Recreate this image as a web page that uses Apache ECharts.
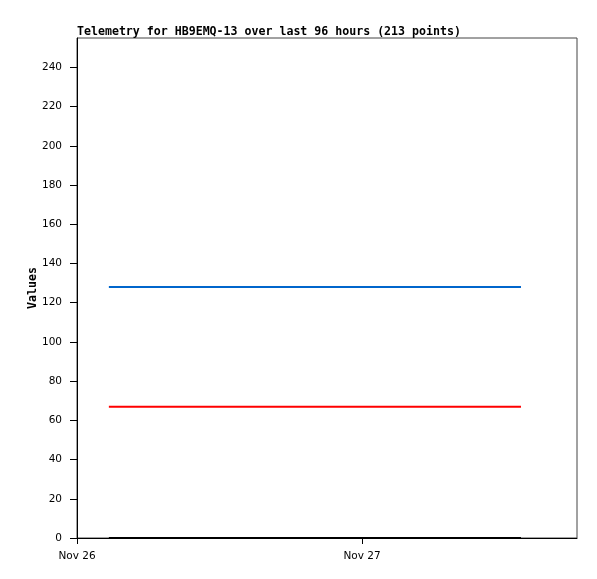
<!DOCTYPE html>
<html><head><meta charset="utf-8">
<script src="https://cdn.jsdelivr.net/npm/echarts@6/dist/echarts.min.js"></script>
<style>html,body{margin:0;padding:0;background:#fff}#c{width:597px;height:579px}</style>
</head><body><div id="c"></div>
<script>
const titleText = "Telemetry for HB9EMQ-13 over last 96 hours (213 points)";
const yAxisName = "Values";
const times = ["2023-11-26T02:41:00Z", "2023-11-26T12:00:00Z", "2023-11-26T22:00:00Z", "2023-11-27T06:00:00Z", "2023-11-27T13:23:00Z"];
const blueValues = [128, 128, 128, 128, 128];
const redValues = [67, 67, 67, 67, 67];
const blackValues = [0, 0, 0, 0, 0];
const yTicks = [0, 20, 40, 60, 80, 100, 120, 140, 160, 180, 200, 220, 240];
const xTickLabels = ["2023-11-26T00:00:00Z", "2023-11-27T00:00:00Z"];

const DAY = 86400000;
const xMin = Date.parse("2023-11-26T00:00:00Z");
const xMax = Date.parse("2023-11-27T18:06:00Z");
const xTicks = xTickLabels.map(s => Date.parse(s));
const months = ["Jan","Feb","Mar","Apr","May","Jun","Jul","Aug","Sep","Oct","Nov","Dec"];
const toPairs = vals => times.map((t, i) => [Date.parse(t), vals[i]]);

const chart = echarts.init(document.getElementById('c'), null, {renderer: 'canvas'});
chart.setOption({
  animation: false,
  title: {
    text: titleText, left: 77, top: 26, padding: 0,
    textStyle: {fontFamily: 'DejaVu Sans Mono', fontWeight: 'bold', fontSize: 11.6, color: '#000'}
  },
  grid: {left: 77, right: 20, top: 38, bottom: 41, show: true, borderColor: '#444', borderWidth: 1, backgroundColor: '#fff'},
  xAxis: {
    type: 'value', min: xMin, max: xMax, interval: DAY,
    axisLine: {show: true, onZero: false, lineStyle: {color: '#000', width: 1}},
    axisTick: {show: true, length: 6, customValues: xTicks, lineStyle: {color: '#000'}},
    axisLabel: {
      customValues: xTicks, margin: 13, color: '#000', fontFamily: 'DejaVu Sans', fontSize: 10.5,
      formatter: v => { const d = new Date(v); return months[d.getUTCMonth()] + ' ' + d.getUTCDate(); }
    },
    splitLine: {show: false}
  },
  yAxis: {
    type: 'value', min: 0, max: 255, interval: 20,
    name: yAxisName, nameLocation: 'middle', nameGap: 38, nameMoveOverlap: false,
    nameTextStyle: {fontFamily: 'DejaVu Sans Mono', fontWeight: 'bold', fontSize: 11.6, color: '#000'},
    axisLine: {show: true, lineStyle: {color: '#000', width: 1}},
    axisTick: {show: true, length: 7, customValues: yTicks, lineStyle: {color: '#000'}},
    axisLabel: {customValues: yTicks, margin: 15, color: '#000', fontFamily: 'DejaVu Sans', fontSize: 10.5},
    splitLine: {show: false}
  },
  series: [
    {type: 'line', clip: false, data: toPairs(blueValues), showSymbol: false, lineStyle: {color: '#0066cc', width: 2}, itemStyle: {color: '#0066cc'}},
    {type: 'line', clip: false, data: toPairs(redValues), showSymbol: false, lineStyle: {color: '#ff0000', width: 2}, itemStyle: {color: '#ff0000'}},
    {type: 'line', clip: false, data: toPairs(blackValues), showSymbol: false, lineStyle: {color: '#000000', width: 2}, itemStyle: {color: '#000'}}
  ]
});
</script></body></html>
